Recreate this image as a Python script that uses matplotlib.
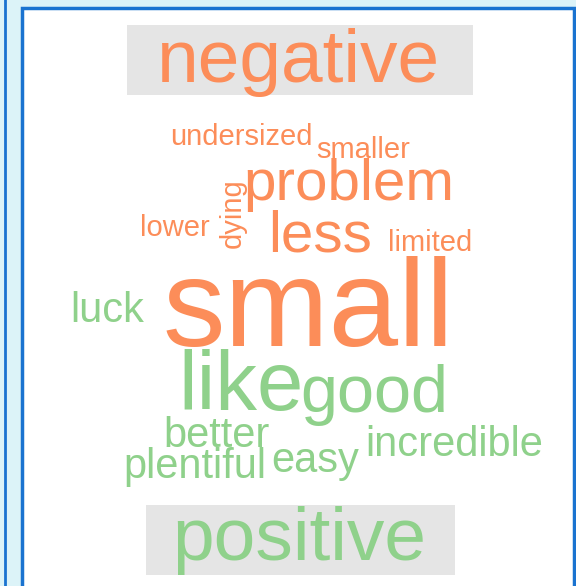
import matplotlib.pyplot as plt
from matplotlib.patches import Rectangle

plt.rcParams['font.family'] = ['Liberation Sans', 'DejaVu Sans']

# comparison word cloud data
neg_words = ['small', 'problem', 'less', 'undersized', 'smaller', 'dying', 'lower', 'limited']
neg_freq = [30, 14, 14, 7, 7, 7, 7, 7]
pos_words = ['like', 'good', 'luck', 'better', 'incredible', 'plentiful', 'easy']
pos_freq = [20, 16, 10, 10, 10, 10, 10]
groups = ['negative', 'positive']

neg_color = '#fc8d59'
pos_color = '#8fd18b'

# where each word sits (pixels: left, baseline, rotation)
layout = {
    'small': (163, 346, 0),
    'problem': (243, 200, 0),
    'less': (268, 252, 0),
    'undersized': (170, 145, 0),
    'smaller': (316, 158, 0),
    'dying': (241, 248, 90),
    'lower': (140, 236, 0),
    'limited': (388, 251, 0),
    'like': (178, 410, 0),
    'good': (300, 412, 0),
    'luck': (70, 322, 0),
    'better': (163, 447, 0),
    'incredible': (365, 456, 0),
    'plentiful': (123, 478, 0),
    'easy': (271, 472, 0),
}

W, H = 576, 586
fig = plt.figure(figsize=(W / 100, H / 100), dpi=100)
fig.patch.set_facecolor('#dcf3f8')
ax = fig.add_axes([0, 0, 1, 1])
ax.set_xlim(0, W)
ax.set_ylim(H, 0)
ax.axis('off')

# panels
ax.add_patch(Rectangle((-20, -20), 25, H + 40, facecolor='#dcf3f8', edgecolor='#1a73d0', lw=2))
ax.add_patch(Rectangle((21.5, 8), 552, H + 20, facecolor='white', edgecolor='#1a73d0', lw=2.5))


def fsize(f):
    return 3 * f


for w, f in zip(neg_words, neg_freq):
    x, y, r = layout[w]
    ax.text(x, y, w, fontsize=fsize(f), color=neg_color, ha='left',
            va='baseline', rotation=r, rotation_mode='anchor')
for w, f in zip(pos_words, pos_freq):
    x, y, r = layout[w]
    ax.text(x, y, w, fontsize=fsize(f), color=pos_color, ha='left',
            va='baseline', rotation=r, rotation_mode='anchor')

# group labels
ax.add_patch(Rectangle((127, 25), 346, 70, facecolor='#e5e5e5', edgecolor='none'))
ax.text(299, 82, groups[0], fontsize=54, color=neg_color, ha='center', va='baseline')
ax.add_patch(Rectangle((146, 505), 309, 70, facecolor='#e5e5e5', edgecolor='none'))
ax.text(299, 560, groups[1], fontsize=54, color=pos_color, ha='center', va='baseline')

fig.savefig('out.png', dpi=100)
